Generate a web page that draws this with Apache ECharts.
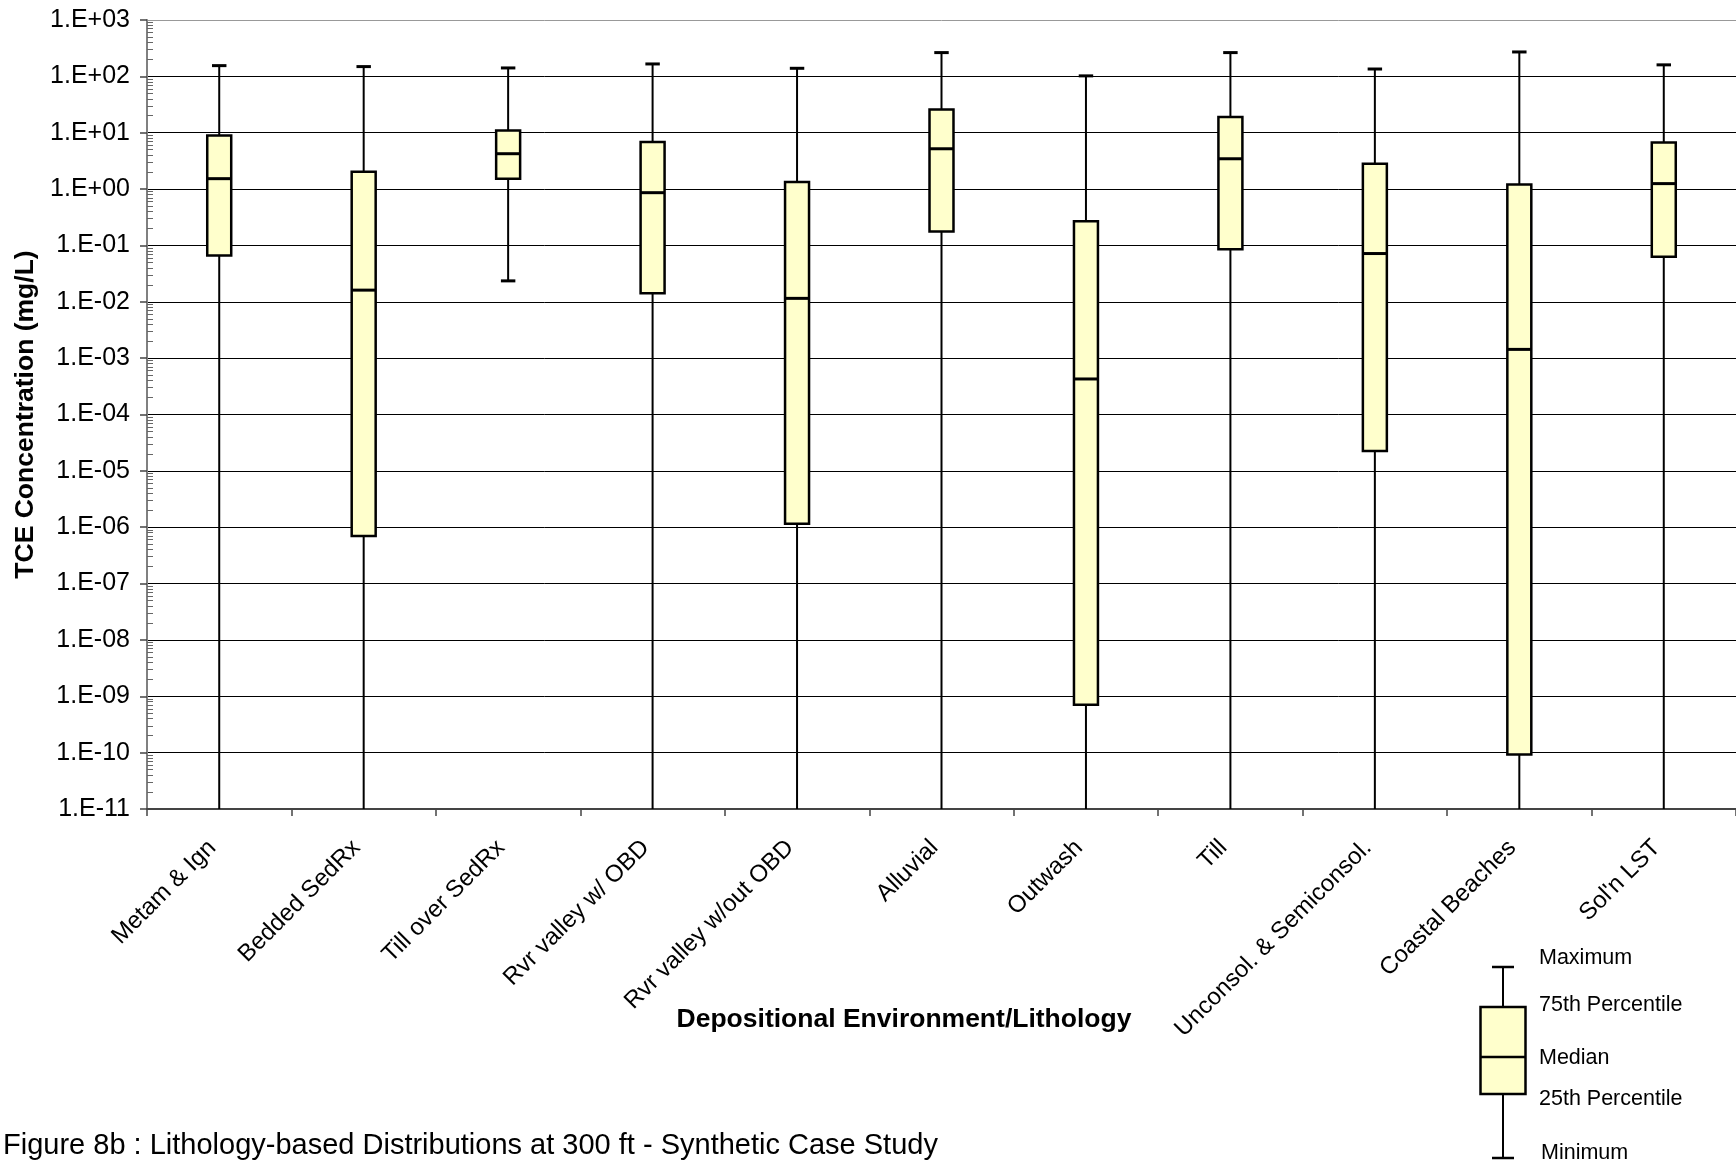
<!DOCTYPE html>
<html>
<head>
<meta charset="utf-8">
<script src="https://cdn.jsdelivr.net/npm/echarts@6/dist/echarts.min.js"></script>
<style>
html,body{margin:0;padding:0;background:#fff;}
#chart{width:1736px;height:1165px;}
</style>
</head>
<body>
<div id="chart"></div>
<script>
// ---- data ----
const categories = ['Metam & Ign', 'Bedded SedRx', 'Till over SedRx', 'Rvr valley w/ OBD', 'Rvr valley w/out OBD', 'Alluvial', 'Outwash', 'Till', 'Unconsol. & Semiconsol.', 'Coastal Beaches', "Sol'n LST"];
const maxVals    = [155, 149, 141, 166, 139, 264, 102, 264, 135, 271, 160];
const q3Vals     = [8.95, 2.03, 11.0, 6.82, 1.33, 25.8, 0.268, 19.1, 2.82, 1.21, 6.73];
const medianVals = [1.53, 0.0161, 4.24, 0.863, 0.0115, 5.19, 4.27e-4, 3.45, 0.0718, 1.43e-3, 1.25];
const q1Vals     = [0.066, 7.0e-7, 1.53, 0.0142, 1.15e-6, 0.176, 7.1e-10, 0.0857, 2.26e-5, 9.3e-11, 0.0627];
const minVals    = [1e-11, 1e-11, 0.0235, 1e-11, 1e-11, 1e-11, 1e-11, 1e-11, 1e-11, 1e-11, 1e-11];
const yTickLabels = ['1.E-11','1.E-10','1.E-09','1.E-08','1.E-07','1.E-06','1.E-05','1.E-04','1.E-03','1.E-02','1.E-01','1.E+00','1.E+01','1.E+02','1.E+03'];
const legendLabels = ['Maximum', '75th Percentile', 'Median', '25th Percentile', 'Minimum'];
const yTitle = 'TCE Concentration (mg/L)';
const xTitle = 'Depositional Environment/Lithology';
const caption = 'Figure 8b : Lithology-based Distributions at 300 ft - Synthetic Case Study';

// ---- build ----
const FONT = '"Liberation Sans", Arial, sans-serif';
const yMinExp = -11, yMaxExp = 3;
const boxData = categories.map((c, i) => [i, minVals[i], q1Vals[i], medianVals[i], q3Vals[i], maxVals[i]]);

const minorTicks = [];
for (let e = yMinExp; e < yMaxExp; e++) {
  for (let k = 2; k <= 9; k++) minorTicks.push(k * Math.pow(10, e));
}
const splitColors = yTickLabels.map((t, i) => i === yTickLabels.length - 1 ? '#999' : '#000');

const chart = echarts.init(document.getElementById('chart'), null, {renderer: 'canvas'});

function renderBox(params, api) {
  const idx = api.value(0);
  const vMin = api.value(1), vQ1 = api.value(2), vMed = api.value(3), vQ3 = api.value(4), vMax = api.value(5);
  const band = api.size([1, 0])[0];
  const x = api.coord([idx, vMed])[0];
  const yMin = api.coord([idx, vMin])[1];
  const yQ1 = api.coord([idx, vQ1])[1];
  const yMed = api.coord([idx, vMed])[1];
  const yQ3 = api.coord([idx, vQ3])[1];
  const yMax = api.coord([idx, vMax])[1];
  const bw = band * 0.166;
  const cw = band * 0.1;
  const ls = {stroke: '#000', lineWidth: 2};
  const children = [
    {type: 'line', shape: {x1: x, y1: yMax, x2: x, y2: yQ3}, style: ls},
    {type: 'line', shape: {x1: x, y1: yQ1, x2: x, y2: yMin}, style: ls},
    {type: 'line', shape: {x1: x - cw / 2, y1: yMax, x2: x + cw / 2, y2: yMax}, style: {stroke: '#000', lineWidth: 3}}
  ];
  if (vMin > Math.pow(10, yMinExp) * 1.0001) {
    children.push({type: 'line', shape: {x1: x - cw / 2, y1: yMin, x2: x + cw / 2, y2: yMin}, style: {stroke: '#000', lineWidth: 3}});
  }
  children.push(
    {type: 'rect', shape: {x: x - bw / 2, y: yQ3, width: bw, height: yQ1 - yQ3}, style: {fill: '#FFFFCC', stroke: '#000', lineWidth: 2.5}},
    {type: 'line', shape: {x1: x - bw / 2, y1: yMed, x2: x + bw / 2, y2: yMed}, style: {stroke: '#000', lineWidth: 3}}
  );
  return {type: 'group', children: children};
}

// legend key (static explanatory drawing)
const kx = 1503, kw = 45;
const LF = '21.5px ' + FONT;
const keyGraphic = {
  type: 'group',
  children: [
    {type: 'line', shape: {x1: kx, y1: 967, x2: kx, y2: 1158}, style: {stroke: '#000', lineWidth: 2}},
    {type: 'line', shape: {x1: kx - 11, y1: 967, x2: kx + 11, y2: 967}, style: {stroke: '#000', lineWidth: 2.5}},
    {type: 'line', shape: {x1: kx - 11, y1: 1158, x2: kx + 11, y2: 1158}, style: {stroke: '#000', lineWidth: 2.5}},
    {type: 'rect', shape: {x: kx - kw / 2, y: 1007, width: kw, height: 87}, style: {fill: '#FFFFCC', stroke: '#000', lineWidth: 2.5}},
    {type: 'line', shape: {x1: kx - kw / 2, y1: 1057, x2: kx + kw / 2, y2: 1057}, style: {stroke: '#000', lineWidth: 2.5}},
    {type: 'text', x: 1539, y: 958, style: {text: legendLabels[0], font: LF, fill: '#000', verticalAlign: 'middle'}},
    {type: 'text', x: 1539, y: 1005, style: {text: legendLabels[1], font: LF, fill: '#000', verticalAlign: 'middle'}},
    {type: 'text', x: 1539, y: 1058, style: {text: legendLabels[2], font: LF, fill: '#000', verticalAlign: 'middle'}},
    {type: 'text', x: 1539, y: 1099, style: {text: legendLabels[3], font: LF, fill: '#000', verticalAlign: 'middle'}},
    {type: 'text', x: 1541, y: 1153, style: {text: legendLabels[4], font: LF, fill: '#000', verticalAlign: 'middle'}}
  ]
};

const option = {
  backgroundColor: '#fff',
  animation: false,
  textStyle: {fontFamily: FONT},
  title: [
    {text: xTitle, left: 899, top: 1001, textAlign: 'center',
     textStyle: {fontSize: 26.5, fontWeight: 'bold', color: '#000', fontFamily: FONT}},
    {text: caption, left: -2, top: 1126,
     textStyle: {fontSize: 29, fontWeight: 'normal', color: '#000', fontFamily: FONT}}
  ],
  grid: {left: 147, top: 20, width: 1592, height: 789, containLabel: false},
  xAxis: {
    type: 'category',
    data: categories,
    boundaryGap: true,
    axisLine: {show: true, lineStyle: {color: '#444', width: 2}},
    axisTick: {show: true, length: 7, lineStyle: {color: '#444', width: 1.5}},
    axisLabel: {rotate: 45, fontSize: 24, color: '#000', margin: 28, padding: [0, 10, 0, 0], fontFamily: FONT, interval: 0},
    splitLine: {show: false}
  },
  yAxis: [
    {
      type: 'log',
      logBase: 10,
      min: Math.pow(10, yMinExp),
      max: Math.pow(10, yMaxExp),
      interval: 1,
      name: yTitle,
      nameLocation: 'middle',
      nameRotate: 90,
      nameGap: 106,
      nameTextStyle: {fontSize: 26.5, fontWeight: 'bold', color: '#000', fontFamily: FONT},
      axisLine: {show: true, lineStyle: {color: '#808080', width: 2}},
      axisTick: {show: true, length: 7, lineStyle: {color: '#444', width: 1.5}},
      axisLabel: {
        fontSize: 25, color: '#000', margin: 17, fontFamily: FONT,
        formatter: function (v) {
          const e = Math.round(Math.log10(v));
          return yTickLabels[e - yMinExp] || '';
        }
      },
      splitLine: {show: true, lineStyle: {color: splitColors, width: 1}}
    },
    {
      type: 'log',
      logBase: 10,
      min: Math.pow(10, yMinExp),
      max: Math.pow(10, yMaxExp),
      position: 'left',
      axisLine: {show: false},
      axisLabel: {show: false},
      splitLine: {show: false},
      axisTick: {show: true, inside: true, length: 6, customValues: minorTicks, lineStyle: {color: '#666', width: 1}}
    }
  ],
  series: [{
    type: 'custom',
    name: 'TCE',
    renderItem: renderBox,
    encode: {x: 0, y: [1, 2, 3, 4, 5]},
    data: boxData,
    clip: false,
    z: 10
  }],
  graphic: [keyGraphic]
};
chart.setOption(option);
</script>
</body>
</html>
